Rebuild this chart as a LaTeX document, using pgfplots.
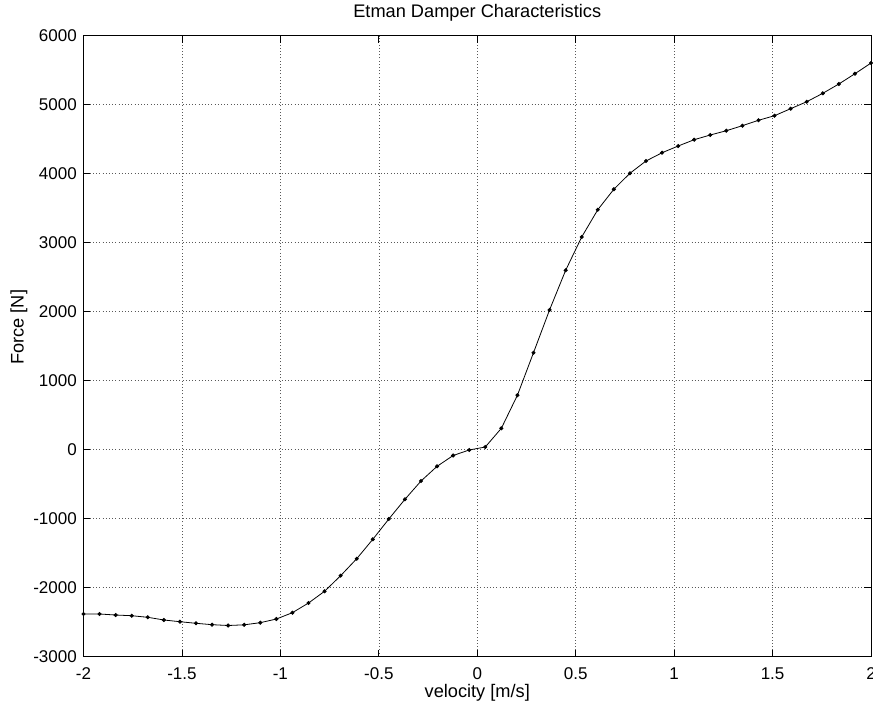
\documentclass[border=0pt]{standalone}
\usepackage{pgfplots}
\pgfplotsset{compat=1.18}
\usepackage{fontspec}
\setmainfont{Liberation Sans}
\begin{document}
\begin{tikzpicture}
\path[use as bounding box] (-83.5pt,-52.3pt) rectangle (789.5pt,656.7pt);
\begin{axis}[
  at={(0pt,0pt)}, anchor=south west,
  scale only axis, width=787.5pt, height=621pt,
  xmin=-2, xmax=2, ymin=-3000, ymax=6000,
  xtick={-2,-1.5,-1,-0.5,0,0.5,1,1.5,2},
  xticklabels={-2,-1.5,-1,-0.5,0,0.5,1,1.5,2},
  ytick={-3000,-2000,-1000,0,1000,2000,3000,4000,5000,6000},
  yticklabels={-3000,-2000,-1000,0,1000,2000,3000,4000,5000,6000},
  scaled ticks=false,
  tick align=inside, major tick length=7pt,
  tick style={black, line width=0.7pt},
  axis line style={black, line width=0.8pt},
  grid=major,
  major grid style={black!65, line width=0.6pt, dash pattern=on 0.8pt off 2.4pt},
  every tick label/.append style={font=\fontsize{17}{20}\selectfont, inner sep=0pt},
  xticklabel style={anchor=base, yshift=-22.6pt},
  yticklabel style={anchor=east, xshift=-6.5pt},
  title={Etman Damper Characteristics},
  title style={font=\fontsize{18.2}{21}\selectfont, at={(axis description cs:0.5,1)}, anchor=base, yshift=12.7pt, inner sep=0pt},
  xlabel={velocity [m/s]},
  xlabel style={font=\fontsize{18.2}{21}\selectfont, at={(axis description cs:0.5,0)}, anchor=base, yshift=-41pt, inner sep=0pt},
  ylabel={Force [N]},
  ylabel style={font=\fontsize{18.2}{21}\selectfont, at={(axis description cs:-0.0819,0.5306)}, anchor=center, rotate=0, inner sep=0pt},
]
\addplot[black, line width=0.8pt, mark=*, mark size=1.6pt] table {
x F
-2.0000 -2381
-1.9184 -2381
-1.8367 -2396
-1.7551 -2406
-1.6735 -2429
-1.5918 -2468
-1.5102 -2493
-1.4286 -2516
-1.3469 -2536
-1.2653 -2548
-1.1837 -2538
-1.1020 -2507
-1.0204 -2454
-0.9388 -2362
-0.8571 -2222
-0.7755 -2052
-0.6939 -1826
-0.6122 -1580
-0.5306 -1299
-0.4490 -1004
-0.3673 -719
-0.2857 -454
-0.2041 -241
-0.1224 -84
-0.0408 -4
0.0408 39
0.1224 310
0.2041 790
0.2857 1406
0.3673 2026
0.4490 2600
0.5306 3083
0.6122 3478
0.6939 3775
0.7755 4006
0.8571 4184
0.9388 4304
1.0204 4401
1.1020 4493
1.1837 4561
1.2653 4623
1.3469 4696
1.4286 4774
1.5102 4841
1.5918 4942
1.6735 5043
1.7551 5165
1.8367 5300
1.9184 5449
2.0000 5604
};
\end{axis}
\end{tikzpicture}
\end{document}
